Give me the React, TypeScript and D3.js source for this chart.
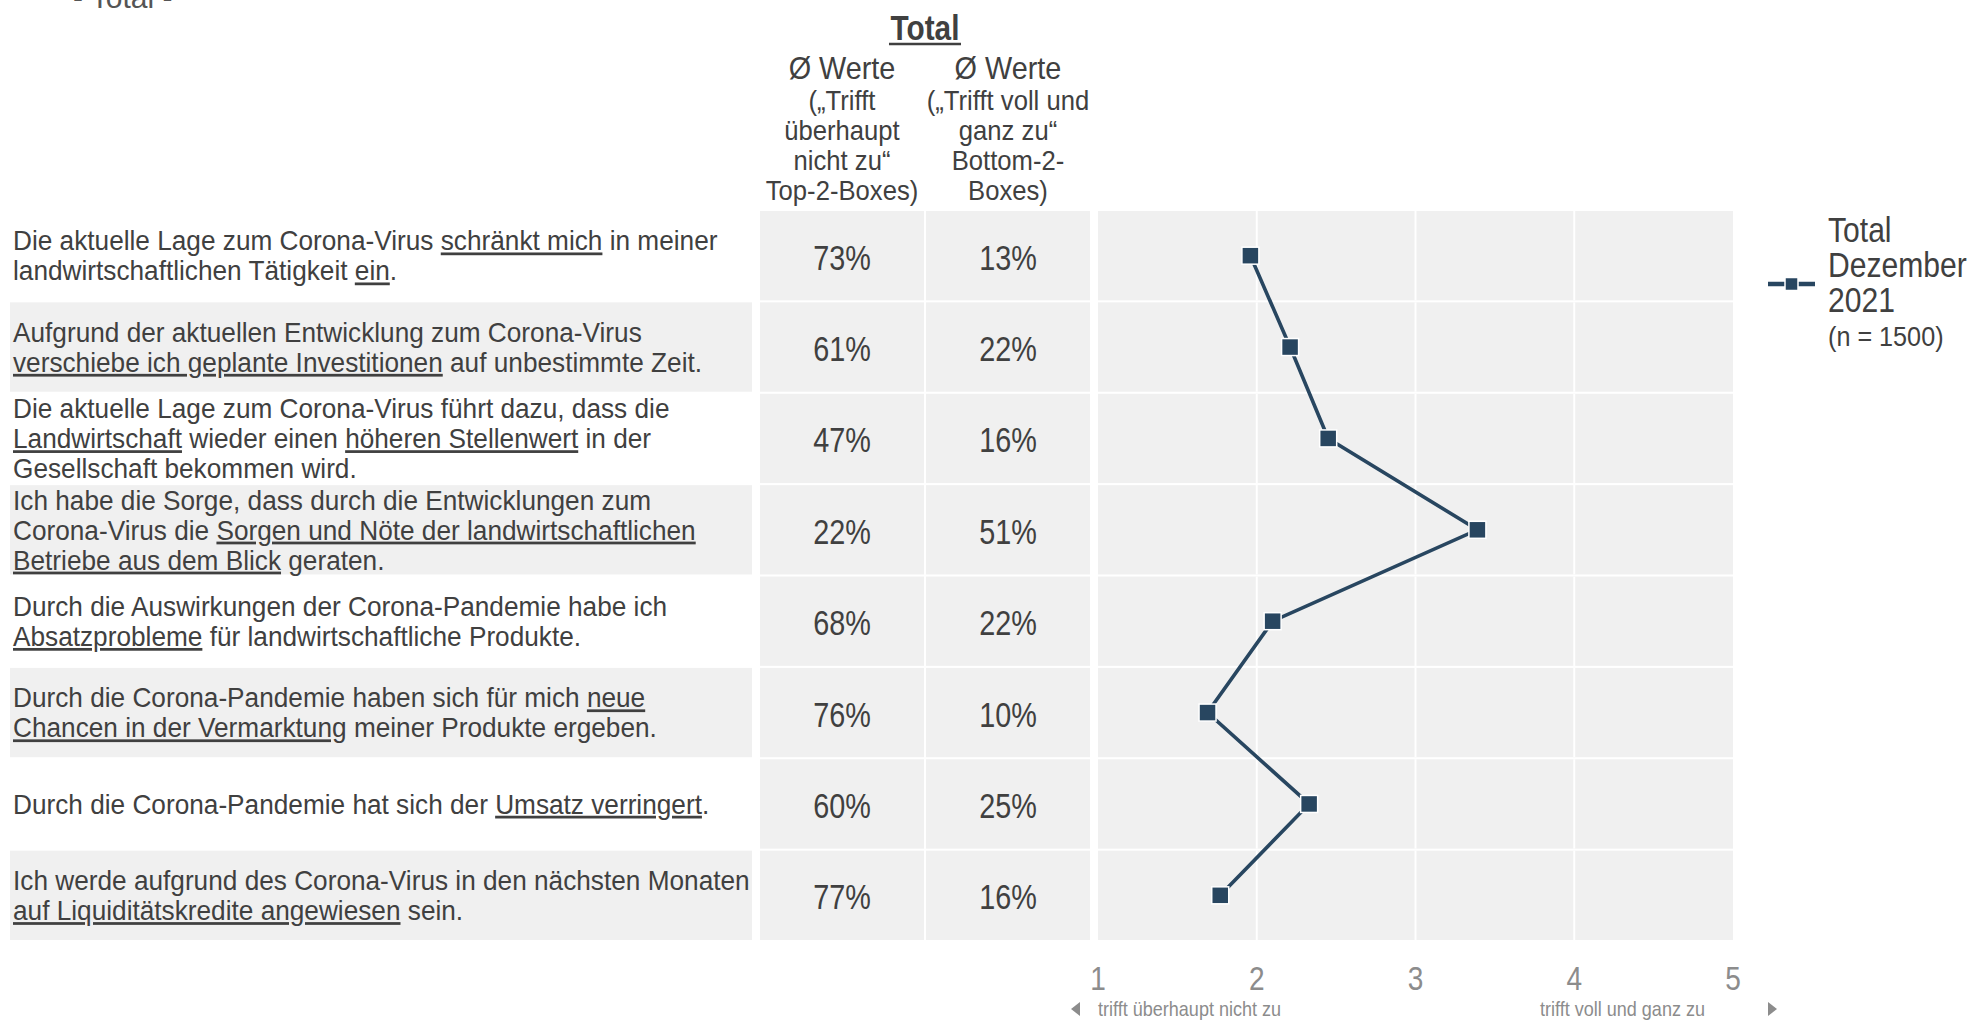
import React from 'react';
import * as d3 from 'd3';

// ---------- data ----------
const statements: string[] = [
  'Die aktuelle Lage zum Corona-Virus _schränkt mich_ in meiner|landwirtschaftlichen Tätigkeit _ein_.',
  'Aufgrund der aktuellen Entwicklung zum Corona-Virus|_verschiebe ich geplante Investitionen_ auf unbestimmte Zeit.',
  'Die aktuelle Lage zum Corona-Virus führt dazu, dass die|_Landwirtschaft_ wieder einen _höheren Stellenwert_ in der|Gesellschaft bekommen wird.',
  'Ich habe die Sorge, dass durch die Entwicklungen zum|Corona-Virus die _Sorgen und Nöte der landwirtschaftlichen_|_Betriebe aus dem Blick_ geraten.',
  'Durch die Auswirkungen der Corona-Pandemie habe ich|_Absatzprobleme_ für landwirtschaftliche Produkte.',
  'Durch die Corona-Pandemie haben sich für mich _neue_|_Chancen in der Vermarktung_ meiner Produkte ergeben.',
  'Durch die Corona-Pandemie hat sich der _Umsatz verringert_.',
  'Ich werde aufgrund des Corona-Virus in den nächsten Monaten|_auf Liquiditätskredite angewiesen_ sein.',
];
const top2: number[] = [73, 61, 47, 22, 68, 76, 60, 77];
const bottom2: number[] = [13, 22, 16, 51, 22, 10, 25, 16];
const means: number[] = [1.96, 2.21, 2.45, 3.39, 2.1, 1.69, 2.33, 1.77];
const xTicks: number[] = [1, 2, 3, 4, 5];
const headerTitle = 'Total';
const headerMain = 'Ø Werte';
const headerCol1: string[] = ['(„Trifft', 'überhaupt', 'nicht zu“', 'Top-2-Boxes)'];
const headerCol2: string[] = ['(„Trifft voll und', 'ganz zu“', 'Bottom-2-', 'Boxes)'];
const legendLines: string[] = ['Total', 'Dezember', '2021'];
const legendN = '(n = 1500)';
const axisLeftNote = 'trifft überhaupt nicht zu';
const axisRightNote = 'trifft voll und ganz zu';
const pageTitle = '- Total -';

// ---------- style ----------
const W = 1972;
const H = 1021;
const FONT = "'Liberation Sans', Arial, Helvetica, sans-serif";
const TXT = '#404040';
const BG = '#f0f0f0';
const NAVY = '#284660';
const AXIS = '#8c8c8c';

function parseLine(line: string) {
  return line.split('_').map((t, i) => ({ t, u: i % 2 === 1 }));
}

function Narrow(props: { x: number; y: number; sx: number; size: number; anchor?: string; fill?: string; weight?: string; children: React.ReactNode }) {
  const { x, y, sx, size, anchor = 'middle', fill = TXT, weight = 'normal', children } = props;
  return (
    <text
      transform={`translate(${x},${y}) scale(${sx},1)`}
      textAnchor={anchor}
      fontSize={size}
      fill={fill}
      fontWeight={weight}
      fontFamily={FONT}
    >
      {children}
    </text>
  );
}

export default function App() {
  const ids = statements.map((_, i) => `s${i}`);
  const y = d3.scaleBand<string>().domain(ids).range([211, 940]).paddingInner(0.022);
  const x = d3.scaleLinear().domain([1, 5]).range([1098, 1733]);
  const cols = d3.scaleBand<string>().domain(['top', 'bottom']).range([760, 1090]).paddingInner(0.012);
  const bw = y.bandwidth();
  const cy = (i: number) => (y(ids[i]) as number) + bw / 2;

  const linePath = d3
    .line<number>()
    .x((d) => x(d))
    .y((_, i) => cy(i))(means) as string;

  const labelSize = 27.5;
  const labelSx = 0.953;
  const lineGap = 30;
  const capH = 19.5;

  const col1c = (cols('top') as number) + cols.bandwidth() / 2;
  const col2c = (cols('bottom') as number) + cols.bandwidth() / 2;
  const headerCenter = (cols('bottom') as number) - 1;

  const mk = 17;
  const legY = 284;
  const ulStyle: React.CSSProperties = {
    textDecoration: 'underline',
    textDecorationThickness: '2.4px',
    textUnderlineOffset: '3px',
  } as React.CSSProperties;

  return (
    <svg width={W} height={H} style={{ position: 'absolute', left: 0, top: 0, background: '#fff' }} fontFamily={FONT}>
      <rect x={0} y={0} width={W} height={H} fill="#ffffff" />

      {/* page title (cropped at top) */}
      <text x={73} y={8} fontSize={30} fill="#555">{pageTitle}</text>

      {/* header */}
      <Narrow x={headerCenter} y={40} sx={0.85} size={35} weight="bold">{headerTitle}</Narrow>
      <line x1={headerCenter - 36} x2={headerCenter + 36} y1={44} y2={44} stroke={TXT} strokeWidth={2.5} />
      <Narrow x={col1c} y={79} sx={0.93} size={31}>{headerMain}</Narrow>
      <Narrow x={col2c} y={79} sx={0.93} size={31}>{headerMain}</Narrow>
      {headerCol1.map((s, i) => (
        <Narrow key={`h1${i}`} x={col1c} y={110 + i * 30} sx={0.95} size={27}>{s}</Narrow>
      ))}
      {headerCol2.map((s, i) => (
        <Narrow key={`h2${i}`} x={col2c} y={110 + i * 30} sx={0.95} size={27}>{s}</Narrow>
      ))}

      {/* rows */}
      {statements.map((st, i) => {
        const lines = st.split('|');
        const top = y(ids[i]) as number;
        const firstBase = cy(i) - (capH + (lines.length - 1) * lineGap) / 2 + capH;
        return (
          <g key={ids[i]}>
            {i % 2 === 1 && <rect x={10} y={top} width={742} height={bw} fill={BG} />}
            <text fontSize={labelSize} fill={TXT} transform={`translate(13,0) scale(${labelSx},1)`}>
              {lines.map((ln, li) => (
                <tspan key={li} x={0} y={firstBase + li * lineGap}>
                  {parseLine(ln).map((seg, si) => (
                    <tspan key={si} style={seg.u ? ulStyle : undefined}>{seg.t}</tspan>
                  ))}
                </tspan>
              ))}
            </text>
            <rect x={cols('top')} y={top} width={cols.bandwidth()} height={bw} fill={BG} />
            <rect x={cols('bottom')} y={top} width={cols.bandwidth()} height={bw} fill={BG} />
            <Narrow x={col1c} y={cy(i) + 14} sx={0.8} size={36}>{`${top2[i]}%`}</Narrow>
            <Narrow x={col2c} y={cy(i) + 14} sx={0.8} size={36}>{`${bottom2[i]}%`}</Narrow>
            <rect x={x(1)} y={top} width={x(5) - x(1)} height={bw} fill={BG} />
            {xTicks.slice(1, -1).map((t) => (
              <line key={t} x1={x(t)} x2={x(t)} y1={top} y2={top + bw} stroke="#ffffff" strokeWidth={2} />
            ))}
          </g>
        );
      })}

      {/* line + markers */}
      <path d={linePath} fill="none" stroke={NAVY} strokeWidth={3.6} />
      {means.map((m, i) => (
        <rect key={i} x={x(m) - mk / 2} y={cy(i) - mk / 2} width={mk} height={mk} fill={NAVY} stroke="#ffffff" strokeWidth={1.5} />
      ))}

      {/* x axis */}
      {xTicks.map((t) => (
        <Narrow key={t} x={x(t)} y={990} sx={0.85} size={33} fill={AXIS}>{String(t)}</Narrow>
      ))}
      <polygon points={`${x(1) - 27},1009 ${x(1) - 18},1002 ${x(1) - 18},1016`} fill={AXIS} />
      <Narrow x={x(1)} y={1016} sx={0.88} size={20.5} fill={AXIS} anchor="start">{axisLeftNote}</Narrow>
      <Narrow x={1705} y={1016} sx={0.88} size={20.5} fill={AXIS} anchor="end">{axisRightNote}</Narrow>
      <polygon points={`${x(5) + 44},1009 ${x(5) + 35},1002 ${x(5) + 35},1016`} fill={AXIS} />

      {/* legend */}
      <line x1={1768} x2={1815} y1={legY} y2={legY} stroke={NAVY} strokeWidth={4.5} />
      <rect x={1791.5 - 6.5} y={legY - 6.5} width={13} height={13} fill={NAVY} stroke="#ffffff" strokeWidth={1.5} />
      {legendLines.map((s, i) => (
        <Narrow key={s} x={1828} y={242 + i * 35} sx={0.86} size={35} anchor="start">{s}</Narrow>
      ))}
      <Narrow x={1828} y={346} sx={0.9} size={28} anchor="start">{legendN}</Narrow>
    </svg>
  );
}
